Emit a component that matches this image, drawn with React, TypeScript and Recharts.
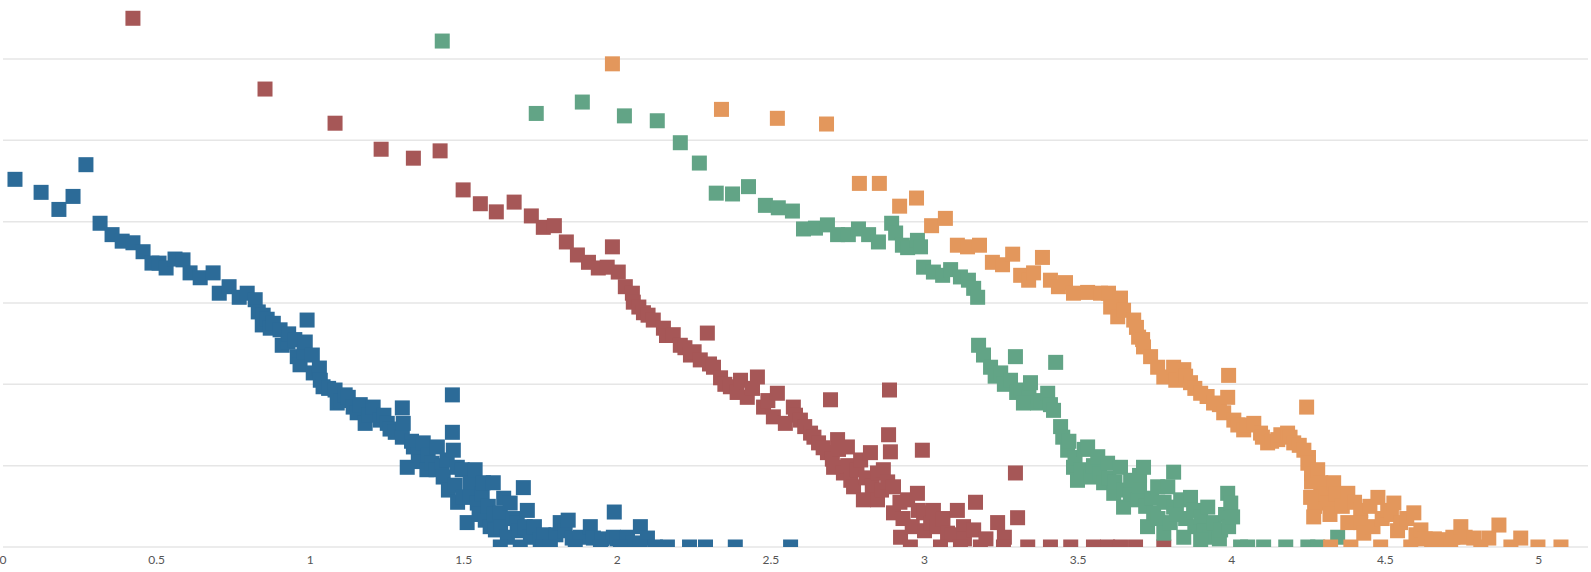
import React from 'react';
import { ScatterChart, Scatter, XAxis, YAxis, CartesianGrid } from 'recharts';

// [x, y] pairs, y in gridline units
const blueData: [number, number][] = [
  [0.039, 4.52], [0.124, 4.36], [0.182, 4.15], [0.228, 4.31], [0.27, 4.7], [0.316, 3.98], [0.355, 3.84],
  [0.388, 3.76], [0.423, 3.74], [0.456, 3.63], [0.485, 3.49], [0.508, 3.49], [0.531, 3.43], [0.56, 3.54],
  [0.586, 3.53], [0.609, 3.37], [0.642, 3.31], [0.684, 3.37], [0.704, 3.12], [0.736, 3.2], [0.769, 3.07],
  [0.795, 3.12], [0.821, 3.04], [0.831, 2.89], [0.847, 2.85], [0.844, 2.73], [0.86, 2.8], [0.87, 2.69],
  [0.88, 2.75], [0.902, 2.67], [0.909, 2.48], [0.928, 2.52], [0.93, 2.62], [0.95, 2.55], [0.958, 2.34],
  [0.967, 2.24], [0.98, 2.4], [0.99, 2.79], [0.984, 2.52], [1.007, 2.36], [1.01, 2.14], [1.03, 2.2],
  [1.033, 2.05], [1.042, 1.97], [1.06, 1.95], [1.081, 1.93], [1.088, 1.77], [1.1, 1.8], [1.114, 1.87],
  [1.124, 1.84], [1.14, 1.72], [1.153, 1.65], [1.163, 1.75], [1.179, 1.52], [1.19, 1.62], [1.205, 1.72],
  [1.228, 1.56], [1.24, 1.62], [1.251, 1.52], [1.26, 1.45], [1.277, 1.41], [1.3, 1.71], [1.3, 1.35],
  [1.303, 1.52], [1.316, 0.98], [1.33, 1.3], [1.336, 1.23], [1.352, 1.13], [1.36, 1.05], [1.368, 1.28],
  [1.38, 0.95], [1.384, 1.13], [1.397, 1.03], [1.41, 0.95], [1.414, 1.23], [1.43, 1.0], [1.433, 0.86],
  [1.446, 1.07], [1.45, 0.7], [1.463, 1.87], [1.463, 1.41], [1.466, 1.19], [1.472, 0.76], [1.479, 0.98],
  [1.48, 0.55], [1.495, 0.95], [1.498, 0.61], [1.511, 0.3], [1.521, 0.79], [1.52, 0.62], [1.537, 0.95],
  [1.544, 0.54], [1.55, 0.4], [1.56, 0.65], [1.564, 0.79], [1.57, 0.33], [1.58, 0.5], [1.586, 0.25],
  [1.596, 0.79], [1.6, 0.4], [1.603, 0.21], [1.619, 0.42], [1.62, 0.25], [1.63, 0.6], [1.642, 0.12],
  [1.651, 0.54], [1.66, 0.35], [1.674, 0.3], [1.68, 0.2], [1.694, 0.73], [1.7, 0.25], [1.707, 0.45],
  [1.717, 0.12], [1.73, 0.25], [1.749, 0.09], [1.76, 0.15], [1.759, 0], [1.8, 0.15], [1.814, 0.3],
  [1.83, 0.2], [1.84, 0.33], [1.853, 0.11], [1.88, 0.12], [1.912, 0.25], [1.922, 0.11], [1.95, 0.1],
  [1.99, 0.43], [1.987, 0.12], [2.0, 0.1], [2.033, 0.12], [2.05, 0.05], [2.075, 0.25], [2.098, 0.11],
  [1.619, 0], [1.684, 0], [1.782, 0], [1.863, 0], [1.945, 0], [2.01, 0], [2.075, 0], [2.124, 0],
  [2.163, 0], [2.235, 0], [2.287, 0], [2.384, 0], [2.564, 0],
];

const redData: [number, number][] = [
  [0.423, 6.5], [0.853, 5.63], [1.081, 5.21], [1.231, 4.89], [1.336, 4.78], [1.423, 4.87], [1.498, 4.39],
  [1.554, 4.22], [1.606, 4.12], [1.664, 4.24], [1.72, 4.07], [1.759, 3.93], [1.795, 3.95], [1.834, 3.75],
  [1.87, 3.59], [1.906, 3.5], [1.938, 3.43], [1.984, 3.69], [1.967, 3.44], [2.003, 3.38], [2.026, 3.2],
  [2.049, 3.12], [2.052, 3.01], [2.07, 2.95], [2.085, 2.88], [2.1, 2.85], [2.117, 2.79], [2.15, 2.69],
  [2.16, 2.6], [2.182, 2.61], [2.205, 2.48], [2.22, 2.45], [2.238, 2.36], [2.25, 2.4], [2.293, 2.63],
  [2.27, 2.3], [2.3, 2.25], [2.313, 2.21], [2.336, 2.08], [2.35, 2.0], [2.368, 1.97], [2.39, 1.9],
  [2.401, 2.05], [2.423, 1.84], [2.44, 1.95], [2.456, 2.09], [2.476, 1.72], [2.49, 1.8], [2.508, 1.6],
  [2.521, 1.89], [2.547, 1.52], [2.573, 1.72], [2.58, 1.62], [2.596, 1.56], [2.61, 1.48], [2.629, 1.4],
  [2.64, 1.35], [2.655, 1.28], [2.67, 1.22], [2.694, 1.81], [2.684, 1.16], [2.7, 1.08], [2.717, 1.32],
  [2.72, 1.2], [2.704, 0.98], [2.736, 0.91], [2.749, 1.23], [2.75, 1.0], [2.76, 0.82], [2.769, 0.74],
  [2.78, 0.95], [2.792, 1.07], [2.801, 0.58], [2.81, 0.85], [2.824, 1.16], [2.83, 0.75], [2.847, 0.91],
  [2.847, 0.58], [2.86, 0.7], [2.886, 1.93], [2.883, 1.38], [2.889, 1.17], [2.866, 0.95], [2.88, 0.8],
  [2.899, 0.74], [2.899, 0.42], [2.92, 0.55], [2.922, 0.12], [2.93, 0.35], [2.945, 0.58], [2.96, 0.25],
  [2.977, 0.66], [2.98, 0.45], [2.993, 1.19], [2.997, 0.42], [3.0, 0.2], [3.02, 0.3], [3.029, 0.45],
  [3.042, 0.25], [3.06, 0.35], [3.075, 0.17], [3.09, 0.15], [3.107, 0.45], [3.127, 0.25], [3.13, 0.1],
  [3.166, 0.55], [3.16, 0.21], [3.182, 0], [3.2, 0.1], [3.238, 0.3], [3.26, 0.12], [3.296, 0.91],
  [3.303, 0.36], [3.257, 0], [2.954, 0], [3.052, 0], [3.117, 0], [3.336, 0], [3.41, 0], [3.476, 0],
  [3.55, 0], [3.596, 0], [3.638, 0], [3.687, 0], [3.779, 0],
];

const greenData: [number, number][] = [
  [1.43, 6.22], [1.736, 5.33], [1.886, 5.47], [2.023, 5.3], [2.13, 5.24], [2.205, 4.97], [2.267, 4.72],
  [2.322, 4.35], [2.375, 4.34], [2.427, 4.43], [2.482, 4.2], [2.524, 4.17], [2.57, 4.13], [2.606, 3.91],
  [2.645, 3.92], [2.684, 3.96], [2.717, 3.84], [2.752, 3.84], [2.785, 3.91], [2.818, 3.84], [2.85, 3.75],
  [2.893, 3.98], [2.906, 3.86], [2.928, 3.71], [2.945, 3.68], [2.977, 3.77], [2.987, 3.69], [2.997, 3.44],
  [3.029, 3.38], [3.059, 3.34], [3.085, 3.41], [3.117, 3.32], [3.143, 3.28], [3.16, 3.18], [3.173, 3.07],
  [3.176, 2.48], [3.192, 2.36], [3.215, 2.21], [3.23, 2.1], [3.248, 2.14], [3.26, 2.0], [3.296, 2.34],
  [3.28, 2.05], [3.3, 1.9], [3.313, 1.93], [3.34, 1.85], [3.345, 2.02], [3.322, 1.77], [3.368, 1.77],
  [3.38, 1.8], [3.401, 1.89], [3.41, 1.75], [3.427, 2.27], [3.42, 1.68], [3.443, 1.48], [3.45, 1.35],
  [3.466, 1.19], [3.47, 1.3], [3.485, 0.98], [3.49, 1.1], [3.498, 0.82], [3.51, 0.95], [3.52, 1.2],
  [3.531, 1.23], [3.541, 0.86], [3.55, 1.0], [3.564, 1.11], [3.57, 0.9], [3.583, 0.79], [3.596, 1.03],
  [3.6, 0.85], [3.616, 0.66], [3.62, 0.8], [3.638, 0.98], [3.648, 0.49], [3.65, 0.7], [3.67, 0.65],
  [3.671, 0.82], [3.694, 0.58], [3.7, 0.75], [3.7, 0.88], [3.713, 0.98], [3.72, 0.5], [3.726, 0.25],
  [3.74, 0.6], [3.746, 0.42], [3.759, 0.74], [3.76, 0.35], [3.78, 0.55], [3.811, 0.92], [3.779, 0.17],
  [3.8, 0.3], [3.811, 0.49], [3.82, 0.4], [3.792, 0.74], [3.834, 0.58], [3.85, 0.35], [3.866, 0.61],
  [3.876, 0.45], [3.88, 0.25], [3.899, 0.37], [3.91, 0.2], [3.922, 0.49], [3.93, 0.12], [3.941, 0.3],
  [3.96, 0.1], [3.964, 0.21], [3.98, 0.4], [3.987, 0.66], [3.99, 0.25], [3.997, 0.54], [4.003, 0.37],
  [3.844, 0.12], [3.899, 0.09], [4.029, 0], [4.052, 0], [4.104, 0], [4.176, 0], [4.248, 0], [4.28, 0],
  [4.345, 0.12],
];

const orangeData: [number, number][] = [
  [1.984, 5.94], [2.339, 5.38], [2.521, 5.27], [2.681, 5.2], [2.788, 4.47], [2.853, 4.47], [2.919, 4.19],
  [2.974, 4.29], [3.023, 3.95], [3.068, 4.04], [3.107, 3.71], [3.14, 3.69], [3.179, 3.71], [3.221, 3.5],
  [3.254, 3.47], [3.287, 3.6], [3.313, 3.34], [3.339, 3.28], [3.355, 3.37], [3.384, 3.56], [3.41, 3.28],
  [3.436, 3.2], [3.459, 3.25], [3.485, 3.12], [3.531, 3.13], [3.573, 3.12], [3.599, 3.12], [3.638, 3.06],
  [3.606, 2.95], [3.629, 2.83], [3.648, 2.91], [3.681, 2.79], [3.69, 2.7], [3.697, 2.58], [3.71, 2.55],
  [3.713, 2.46], [3.736, 2.34], [3.759, 2.21], [3.779, 2.09], [3.811, 2.21], [3.818, 2.05], [3.844, 2.18],
  [3.85, 2.1], [3.866, 2.02], [3.88, 1.95], [3.899, 1.89], [3.92, 1.85], [3.941, 1.77], [3.96, 1.75],
  [3.99, 2.11], [3.987, 1.84], [3.974, 1.65], [4.007, 1.56], [4.02, 1.5], [4.039, 1.44], [4.05, 1.5],
  [4.072, 1.52], [4.094, 1.4], [4.1, 1.35], [4.117, 1.28], [4.13, 1.3], [4.15, 1.32], [4.16, 1.38],
  [4.182, 1.4], [4.19, 1.35], [4.202, 1.28], [4.22, 1.25], [4.235, 1.19], [4.244, 1.72], [4.25, 1.1],
  [4.248, 1.03], [4.26, 0.9], [4.26, 0.8], [4.27, 0.5], [4.28, 0.95], [4.29, 0.79], [4.3, 0.65],
  [4.257, 0.61], [4.267, 0.37], [4.313, 0.54], [4.32, 0.4], [4.332, 0.79], [4.34, 0.65], [4.36, 0.5],
  [4.378, 0.66], [4.378, 0.3], [4.4, 0.55], [4.42, 0.45], [4.42, 0.3], [4.43, 0.17], [4.45, 0.5],
  [4.46, 0.25], [4.476, 0.61], [4.49, 0.35], [4.508, 0.45], [4.52, 0.4], [4.528, 0.54], [4.54, 0.2],
  [4.55, 0.3], [4.57, 0.35], [4.593, 0.42], [4.6, 0.15], [4.616, 0.21], [4.63, 0.1], [4.66, 0.1],
  [4.681, 0.09], [4.72, 0.12], [4.746, 0.25], [4.76, 0.12], [4.788, 0.11], [4.837, 0.11], [4.87, 0.27],
  [4.941, 0.11], [4.997, 0], [5.072, 0], [4.322, 0], [4.388, 0], [4.485, 0], [4.583, 0], [4.651, 0],
  [4.713, 0], [4.811, 0], [4.909, 0],
];

const xTicks = [0, 0.5, 1, 1.5, 2, 2.5, 3, 3.5, 4, 4.5, 5];
const yTicks = [0, 1, 2, 3, 4, 5, 6];
const Y_MAX = 6.7;

const PLOT_BOTTOM = 547;
const SIZE = 15;

const toPoints = (arr: [number, number][]) => arr.map(([x, y]) => ({ x, y }));

// square marker, cut off at the baseline like the original
const Square = (props: any) => {
  const { cx, cy, fill } = props;
  const top = cy - SIZE / 2;
  const h = Math.max(0, Math.min(SIZE, PLOT_BOTTOM - top));
  return <rect x={cx - SIZE / 2} y={top} width={SIZE} height={h} fill={fill} />;
};

// only draw lines at the real ticks (no extra line at the top edge)
const gridLines = (args: any) => {
  const top = args?.offset?.top ?? 2;
  const h = args?.offset?.height ?? 545;
  return yTicks.map((t) => top + h * (1 - t / Y_MAX));
};

const App: React.FC = () => {
  return (
    <div style={{ position: 'absolute', left: 0, top: 0, background: '#fff' }}>
      <ScatterChart width={1591} height={572} margin={{ top: 2, right: 3, left: 3, bottom: 0 }}>
        <CartesianGrid
          horizontal
          vertical={false}
          stroke="#e6e6e6"
          strokeWidth={1.5}
          horizontalCoordinatesGenerator={gridLines}
        />
        <XAxis
          type="number"
          dataKey="x"
          domain={[0, 5.16]}
          ticks={xTicks}
          axisLine={false}
          tickLine={false}
          height={25}
          tick={{ fill: '#555', fontSize: 12, fontFamily: 'Lato, sans-serif' }}
        />
        <YAxis type="number" dataKey="y" domain={[0, Y_MAX]} ticks={yTicks} hide />
        <Scatter data={toPoints(blueData)} fill="#2c6b98" shape={Square} isAnimationActive={false} />
        <Scatter data={toPoints(redData)} fill="#a65757" shape={Square} isAnimationActive={false} />
        <Scatter data={toPoints(greenData)} fill="#62a486" shape={Square} isAnimationActive={false} />
        <Scatter data={toPoints(orangeData)} fill="#e3975c" shape={Square} isAnimationActive={false} />
      </ScatterChart>
    </div>
  );
};

export default App;
